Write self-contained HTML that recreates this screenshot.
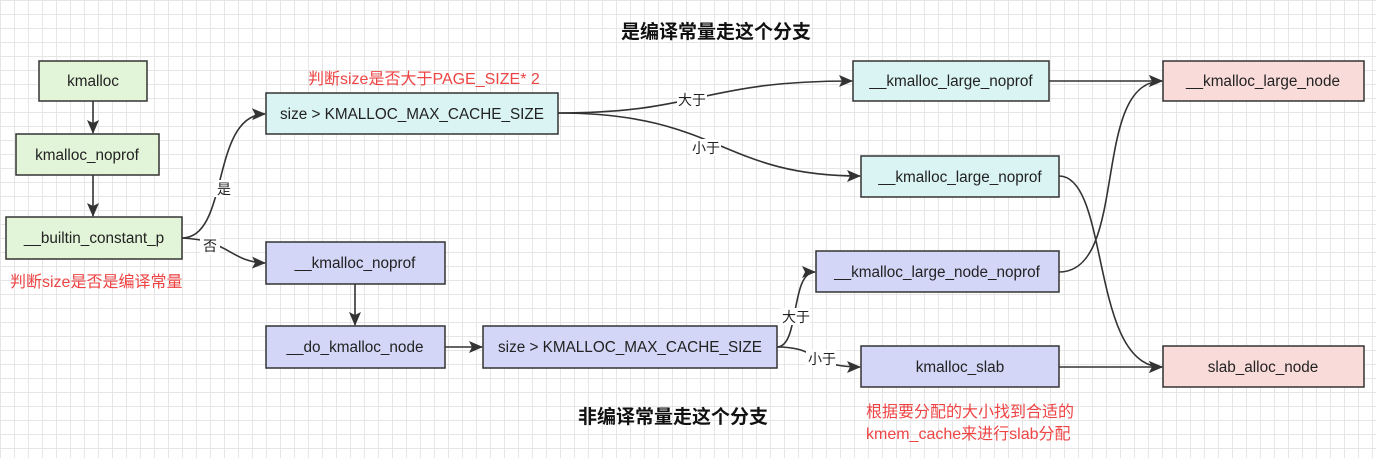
<!DOCTYPE html>
<html><head><meta charset="utf-8"><style>
body{margin:0;width:1376px;height:458px;overflow:hidden;background:#fff;
background-image:linear-gradient(#e6e6e6 1px,transparent 1px),linear-gradient(90deg,#e6e6e6 1px,transparent 1px);background-size:14px 14px;}
svg{position:absolute;left:0;top:0;font-family:"Liberation Sans","Noto Sans CJK SC",sans-serif;}
</style></head><body>
<svg width="1376" height="458" viewBox="0 0 1376 458">
<defs><marker id="a" markerWidth="14" markerHeight="12" refX="13" refY="6" orient="auto" markerUnits="userSpaceOnUse"><path d="M0,0 L14,6 L0,12 L3,6z" fill="#333"/></marker></defs>
<g stroke="#333" stroke-width="1.6" fill="none" marker-end="url(#a)">
<path d="M93,101 V133"/>
<path d="M93,175 V216"/>
<path d="M182,238 C230,238 210,115 265,114"/>
<path d="M182,238 C230,240 230,262 265,263"/>
<path d="M355,284 V325"/>
<path d="M445,347 H482"/>
<path d="M558,113 C700,113 700,81 852,81"/>
<path d="M558,113 C720,113 720,176 860,176"/>
<path d="M777,347 C800,347 790,272 815,272"/>
<path d="M777,347 C820,347 810,367 860,367"/>
<path d="M1049,81 H1162"/>
<path d="M1059,272 C1130,272 1090,81 1162,81"/>
<path d="M1059,176 C1110,176 1090,367 1162,367"/>
<path d="M1059,367 H1162"/>
</g>
<g stroke="#333" stroke-width="1.5" font-size="14" text-anchor="middle" fill="#222">
<rect x="39" y="61" width="108" height="40" fill="#e3f5d9"/>
<rect x="16" y="134" width="143" height="41" fill="#e3f5d9"/>
<rect x="6" y="217" width="176" height="42" fill="#e3f5d9"/>
<rect x="266" y="93" width="292" height="41" fill="#d9f4f2"/>
<rect x="266" y="242" width="179" height="42" fill="#d3d6f7"/>
<rect x="266" y="326" width="179" height="42" fill="#d3d6f7"/>
<rect x="483" y="326" width="294" height="42" fill="#d3d6f7"/>
<rect x="853" y="61" width="196" height="40" fill="#d9f4f2"/>
<rect x="861" y="156" width="198" height="41" fill="#d9f4f2"/>
<rect x="816" y="251" width="243" height="41" fill="#d3d6f7"/>
<rect x="861" y="346" width="198" height="41" fill="#d3d6f7"/>
<rect x="1163" y="61" width="201" height="40" fill="#f9dbd9"/>
<rect x="1163" y="346" width="201" height="41" fill="#f9dbd9"/>
</g>
<g font-size="15.3" text-anchor="middle" fill="#222">
<text x="93" y="86">kmalloc</text>
<text x="87" y="160">kmalloc_noprof</text>
<text x="94" y="243">__builtin_constant_p</text>
<text x="412" y="119">size &gt; KMALLOC_MAX_CACHE_SIZE</text>
<text x="355" y="268">__kmalloc_noprof</text>
<text x="355" y="352">__do_kmalloc_node</text>
<text x="630" y="352">size &gt; KMALLOC_MAX_CACHE_SIZE</text>
<text x="951" y="86">__kmalloc_large_noprof</text>
<text x="960" y="182">__kmalloc_large_noprof</text>
<text x="937" y="277">__kmalloc_large_node_noprof</text>
<text x="960" y="372">kmalloc_slab</text>
<text x="1263" y="86">__kmalloc_large_node</text>
<text x="1263" y="372">slab_alloc_node</text>
</g>
<g font-size="14" text-anchor="middle" fill="#222">
<rect x="214" y="180" width="20" height="17" fill="#fff"/><text x="224" y="194">是</text>
<rect x="200" y="238" width="20" height="17" fill="#fff"/><text x="210" y="251">否</text>
<rect x="677" y="91" width="30" height="17" fill="#fff"/><text x="692" y="105">大于</text>
<rect x="691" y="139" width="30" height="17" fill="#fff"/><text x="706" y="153">小于</text>
<rect x="780" y="308" width="30" height="17" fill="#fff"/><text x="796" y="322">大于</text>
<rect x="806" y="350" width="30" height="17" fill="#fff"/><text x="822" y="364">小于</text>
</g>
<g font-size="16" fill="#ee4444">
<text x="308" y="84">判断size是否大于PAGE_SIZE* 2</text>
<text x="10" y="287">判断size是否是编译常量</text>
<text x="866" y="417">根据要分配的大小找到合适的</text>
<text x="866" y="439">kmem_cache来进行slab分配</text>
</g>
<g font-size="19" font-weight="bold" fill="#111" text-anchor="middle">
<text x="716" y="38">是编译常量走这个分支</text>
<text x="673" y="423">非编译常量走这个分支</text>
</g>
</svg>
</body></html>
